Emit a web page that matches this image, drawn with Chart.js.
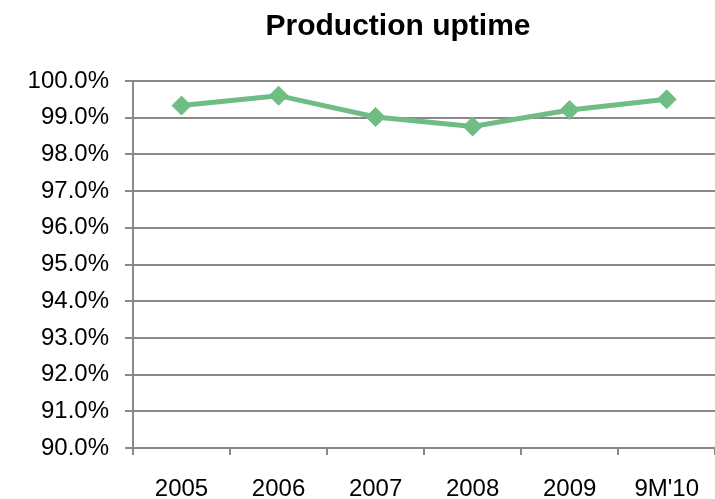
<!DOCTYPE html>
<html>
<head>
<meta charset="utf-8">
<script src="https://cdn.jsdelivr.net/npm/chart.js@4"></script>
<style>
  html, body { margin: 0; padding: 0; background: #fff; overflow: hidden; }
  #divchart { width: 715px; height: 499px; overflow: hidden; }
</style>
</head>
<body>
<!-- canvas is a bit wider than the window so the plot area runs off the right edge, like the original -->
<div id="divchart"><canvas id="chart" width="719" height="499"></canvas></div>
<script>
const titleText = 'Production uptime';
const years = ['2005', '2006', '2007', '2008', '2009', "9M'10"];
const uptime = [99.33, 99.6, 99.02, 98.76, 99.21, 99.5];
const yMin = 90;
const yMax = 100;
const yStep = 1;

const green = '#70BD84';
const gray = '#898989';
const font = "'Liberation Sans', Arial, sans-serif";

// title is drawn by hand so it can sit off-centre like the original
const titlePlugin = {
    id: 'titleText',
    afterDraw(chart) {
        const c = chart.ctx;
        c.save();
        c.font = "bold 30px " + font;
        c.fillStyle = '#000';
        c.textAlign = 'center';
        c.textBaseline = 'alphabetic';
        c.fillText(titleText, 398, 35);
        c.restore();
    }
};

let ctx = document.getElementById('chart');

new Chart(ctx, {
    type: 'line',
    data: {
        labels: years,
        datasets: [{
            data: uptime,
            borderColor: green,
            backgroundColor: green,
            borderWidth: 5,
            pointStyle: 'rectRot',
            pointRadius: 9.5,
            pointBorderWidth: 1,
            tension: 0
        }]
    },
    options: {
        responsive: false,
        animation: false,
        layout: { autoPadding: false, padding: { top: 81, left: 0, right: 0, bottom: 0 } },
        plugins: {
            legend: { display: false },
            tooltip: { enabled: false },
            title: { display: false }
        },
        scales: {
            x: {
                offset: true,
                grid: { offset: true, drawOnChartArea: false, tickLength: 7, color: gray, lineWidth: 2 },
                border: { color: gray, width: 2 },
                ticks: { color: '#000', padding: 20, font: { family: font, size: 24 }, maxRotation: 0 },
                afterFit(scale) { scale.height = 51; }
            },
            y: {
                min: yMin,
                max: yMax,
                grid: { color: gray, lineWidth: 2, tickLength: 8 },
                border: { color: gray, width: 2 },
                ticks: {
                    stepSize: yStep,
                    color: '#000',
                    padding: 16,
                    font: { family: font, size: 24 },
                    callback: (v) => v.toFixed(1) + '%'
                },
                afterFit(scale) { scale.width = 133; }
            }
        }
    },
    plugins: [titlePlugin]
});
</script>
</body>
</html>
